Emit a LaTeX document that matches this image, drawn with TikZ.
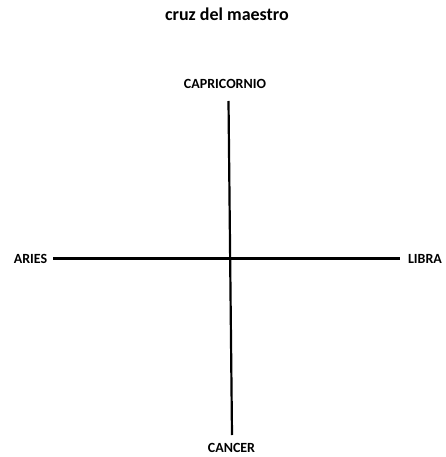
\documentclass[tikz,border=0pt]{standalone}
\usepackage{fontspec}
\setmainfont{Carlito}
\begin{document}
\begin{tikzpicture}[x=1pt,y=-1pt,
  lbl/.style={font=\bfseries\fontsize{14}{16}\selectfont, inner sep=0pt, anchor=base},
  ttl/.style={font=\bfseries\fontsize{18}{21}\selectfont, inner sep=0pt, anchor=base},
  axis/.style={line width=2.2pt, black}]
\useasboundingbox (0,0) rectangle (445,457);
\node[ttl] (title) at (227,21) {cruz del maestro};
\node[lbl] (cap) at (225,89) {CAPRICORNIO};
\node[lbl] (aries) at (30.5,263) {ARIES};
\node[lbl] (libra) at (425,263) {LIBRA};
\node[lbl] (cancer) at (231.5,452) {CANCER};
\coordinate (vt) at (228.5,101);
\coordinate (vb) at (232,435);
\coordinate (hl) at (53,258.5);
\coordinate (hr) at (400,258.5);
\draw[axis] (vt) -- (vb);
\draw[axis] (hl) -- (hr);
\end{tikzpicture}
\end{document}
